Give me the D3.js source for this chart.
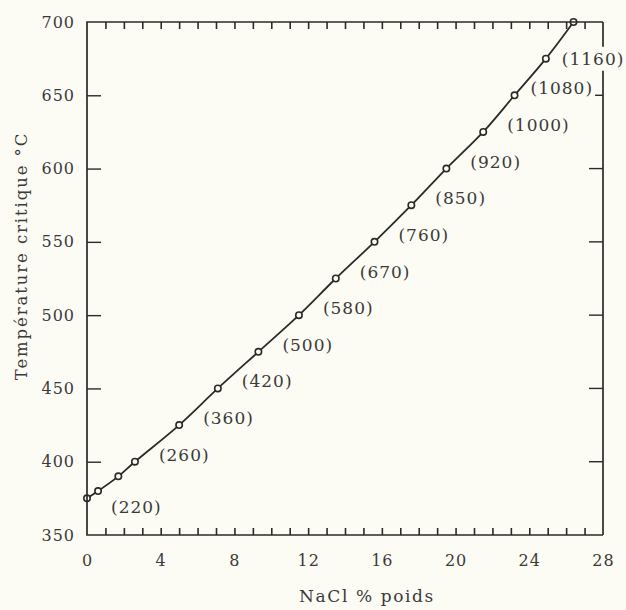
<!DOCTYPE html>
<html>
<head>
<meta charset="utf-8">
<script src="https://cdn.jsdelivr.net/npm/d3@7"></script>
<style>
  html, body { margin: 0; padding: 0; background: #fcfcf5; }
  svg { display: block; }
</style>
</head>
<body>
<svg id="chart" width="626" height="610"></svg>
<script>
// ---- data ----
const naclWt   = [0, 0.6, 1.7, 2.6, 5.0, 7.1, 9.3, 11.5, 13.5, 15.6, 17.6, 19.5, 21.5, 23.2, 24.9, 26.4];
const tempC    = [375, 380, 390, 400, 425, 450, 475, 500, 525, 550, 575, 600, 625, 650, 675, 700];
const pressure = ["(220)", null, null, "(260)", "(360)", "(420)", "(500)", "(580)", "(670)", "(760)", "(850)", "(920)", "(1000)", "(1080)", "(1160)", null];
const xTickLabels = [0, 4, 8, 12, 16, 20, 24, 28];
const yTickLabels = [350, 400, 450, 500, 550, 600, 650, 700];
const xMinorTicks = [1, 2, 3, 4, 5, 6, 7, 8, 9, 10, 11, 12, 13, 14, 15, 16, 17, 18, 19, 20, 21, 22, 23, 24, 25, 26, 27];
const xTitle = "NaCl % poids";
const yTitle = "Température critique °C";

// ---- layout ----
const W = 626, H = 610;
const pLeft = 87, pRight = 603, pTop = 22, pBottom = 535;
const ink = "#2a2a2a", textInk = "#3a3a3a", bg = "#fcfcf5";
const font = "'DejaVu Serif', serif";

const svg = d3.select("#chart");
svg.append("rect").attr("width", W).attr("height", H).attr("fill", bg);

const x = d3.scaleLinear().domain([0, 28]).range([pLeft, pRight]);
const y = d3.scaleLinear().domain([350, 700]).range([pBottom, pTop]);

// bottom axis: minor inward ticks at every unit
svg.append("g").attr("class", "minor-bottom").attr("transform", `translate(0,${pBottom})`)
  .call(d3.axisBottom(x).tickValues(xMinorTicks).tickSizeInner(-7).tickSizeOuter(0).tickFormat(() => ""))
  .call(g => g.select(".domain").remove())
  .call(g => g.selectAll(".tick line").attr("stroke", ink).attr("stroke-width", 1.6));

// top axis: minor inward ticks at every unit
svg.append("g").attr("class", "minor-top").attr("transform", `translate(0,${pTop})`)
  .call(d3.axisTop(x).tickValues(xMinorTicks).tickSizeInner(-7).tickSizeOuter(0).tickFormat(() => ""))
  .call(g => g.select(".domain").remove())
  .call(g => g.selectAll(".tick line").attr("stroke", ink).attr("stroke-width", 1.6));

// bottom labels
svg.append("g").attr("transform", `translate(0,${pBottom})`)
  .call(d3.axisBottom(x).tickValues(xTickLabels).tickSize(0).tickPadding(20).tickFormat(d3.format("d")))
  .call(g => g.select(".domain").remove())
  .call(g => g.selectAll("text").attr("fill", textInk).attr("font-family", font)
      .attr("font-size", 16).attr("letter-spacing", 1));

// left axis
svg.append("g").attr("transform", `translate(${pLeft},0)`)
  .call(d3.axisLeft(y).tickValues(yTickLabels).tickSize(-14).tickPadding(12).tickFormat(d3.format("d")))
  .call(g => g.select(".domain").remove())
  .call(g => g.selectAll("line").attr("stroke", ink).attr("stroke-width", 1.4)
      .filter(d => d === 350 || d === 700).remove())
  .call(g => g.selectAll("text").attr("fill", textInk).attr("font-family", font)
      .attr("font-size", 16).attr("letter-spacing", 1));

// curve
const pts = naclWt.map((v, i) => ({ x: v, t: tempC[i], p: pressure[i] }));
const line = d3.line().x(d => x(d.x)).y(d => y(d.t)).curve(d3.curveCatmullRom.alpha(0.5));
svg.append("path").datum(pts).attr("d", line)
  .attr("fill", "none").attr("stroke", ink).attr("stroke-width", 1.8);

// points
svg.append("g").selectAll("circle").data(pts).join("circle")
  .attr("cx", d => x(d.x)).attr("cy", d => y(d.t)).attr("r", 3.2)
  .attr("fill", bg).attr("stroke", ink).attr("stroke-width", 1.6);

// pressure labels
const labs = svg.append("g").selectAll("text").data(pts.filter(d => d.p)).join("text")
  .attr("x", d => x(d.x) + (d.t >= 650 ? 16 : 24))
  .attr("y", d => y(d.t) + (d.t < 380 ? 15 : (d.t >= 675 ? 6 : -1)))
  .attr("fill", textInk).attr("font-family", font).attr("font-size", 17)
  .attr("letter-spacing", 1)
  .text(d => d.p);

// frame: top, left, bottom lines
const frame = svg.append("g").attr("stroke", ink).attr("stroke-width", 1.7).attr("fill", "none");
frame.append("path").attr("d", `M${pRight},${pTop}H${pLeft}V${pBottom}H${pRight}`);

// right side: line interrupted where a label crosses it, inward ticks
const boxes = [];
labs.each(function () { boxes.push(this.getBBox()); });
const crossing = boxes.filter(b => b.x < pRight && b.x + b.width > pRight);
let segStart = pTop;
crossing.sort((a, b) => a.y - b.y).forEach(b => {
  frame.append("line").attr("x1", pRight).attr("x2", pRight).attr("y1", segStart).attr("y2", b.y - 2);
  segStart = b.y + b.height + 2;
});
frame.append("line").attr("x1", pRight).attr("x2", pRight).attr("y1", segStart).attr("y2", pBottom);

yTickLabels.filter(v => v > 350 && v < 700).forEach(v => {
  const yy = y(v);
  let x2 = pRight - 14;
  boxes.forEach(b => {
    if (yy >= b.y && yy <= b.y + b.height + 3 && b.x + b.width > x2) x2 = b.x + b.width + 2;
  });
  frame.append("line").attr("x1", pRight).attr("x2", x2).attr("y1", yy).attr("y2", yy)
    .attr("stroke-width", 1.4);
});

// titles
svg.append("text").attr("x", 367).attr("y", 602).attr("text-anchor", "middle")
  .attr("fill", textInk).attr("font-family", font).attr("font-size", 17).attr("letter-spacing", 1.6)
  .text(xTitle);

svg.append("text").attr("transform", "translate(27,256) rotate(-90)").attr("text-anchor", "middle")
  .attr("fill", textInk).attr("font-family", font).attr("font-size", 16.5).attr("letter-spacing", 1.9)
  .text(yTitle);
</script>
</body>
</html>
